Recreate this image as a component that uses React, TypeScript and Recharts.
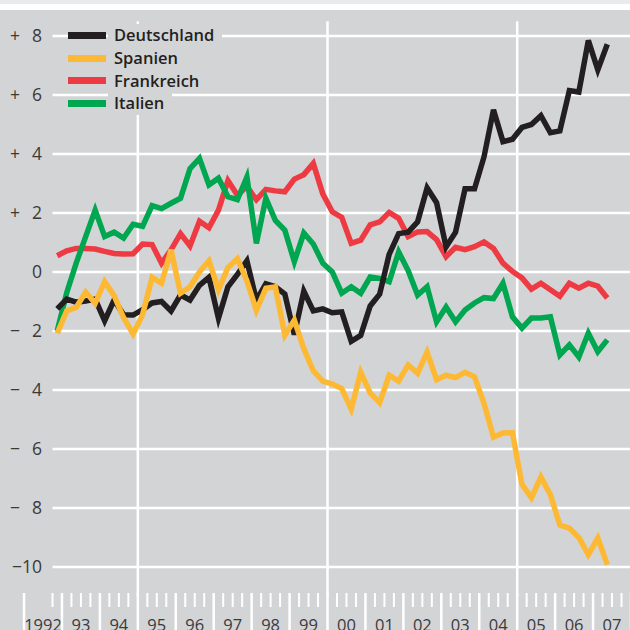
import React from 'react';
import { LineChart, Line, XAxis, YAxis, ReferenceLine, Legend } from 'recharts';

// quarterly values, 1992 Q4 .. 2007 Q2
const quarters = [
  '1992-4',
  '1993-1', '1993-2', '1993-3', '1993-4',
  '1994-1', '1994-2', '1994-3', '1994-4',
  '1995-1', '1995-2', '1995-3', '1995-4',
  '1996-1', '1996-2', '1996-3', '1996-4',
  '1997-1', '1997-2', '1997-3', '1997-4',
  '1998-1', '1998-2', '1998-3', '1998-4',
  '1999-1', '1999-2', '1999-3', '1999-4',
  '2000-1', '2000-2', '2000-3', '2000-4',
  '2001-1', '2001-2', '2001-3', '2001-4',
  '2002-1', '2002-2', '2002-3', '2002-4',
  '2003-1', '2003-2', '2003-3', '2003-4',
  '2004-1', '2004-2', '2004-3', '2004-4',
  '2005-1', '2005-2', '2005-3', '2005-4',
  '2006-1', '2006-2', '2006-3', '2006-4',
  '2007-1', '2007-2',
];

const deutschland = [
  -1.25,
  -0.92, -1.02, -0.98, -0.92,
  -1.65, -0.95, -1.45, -1.46,
  -1.28, -1.05, -1.0, -1.32,
  -0.78, -0.95, -0.45, -0.18,
  -1.57, -0.5, -0.08, 0.38,
  -0.95, -0.4, -0.5, -0.75,
  -2.12, -0.65, -1.32, -1.25,
  -1.38, -1.35, -2.35, -2.15,
  -1.15, -0.75, 0.6, 1.3,
  1.35, 1.7, 2.85, 2.35,
  0.85, 1.35, 2.82, 2.82,
  3.9, 5.5, 4.42, 4.5,
  4.9, 5.0, 5.3, 4.72,
  4.78, 6.15, 6.1, 7.85,
  6.85, 7.72,
];

const spanien = [
  -2.08,
  -1.32, -1.2, -0.68, -1.06,
  -0.33, -0.8, -1.55, -2.1,
  -1.45, -0.18, -0.38, 0.75,
  -0.72, -0.5, 0.0, 0.38,
  -0.6, 0.15, 0.45, -0.3,
  -1.3, -0.55, -0.5, -2.14,
  -1.63, -2.6, -3.35, -3.7,
  -3.8, -3.95, -4.65, -3.4,
  -4.1, -4.43, -3.5, -3.7,
  -3.15, -3.43, -2.72, -3.65,
  -3.5, -3.58, -3.4, -3.55,
  -4.45, -5.6, -5.46, -5.45,
  -7.2, -7.65, -6.95, -7.55,
  -8.58, -8.68, -9.0, -9.58,
  -9.02, -9.92,
];

const frankreich = [
  0.55,
  0.72, 0.8, 0.8, 0.78,
  0.7, 0.63, 0.61, 0.62,
  0.95, 0.93, 0.3, 0.75,
  1.3, 0.88, 1.72, 1.5,
  2.1, 3.1, 2.6, 2.9,
  2.45, 2.8, 2.75, 2.72,
  3.15, 3.3, 3.68, 2.65,
  2.04, 1.85, 0.97, 1.08,
  1.6, 1.7, 2.02, 1.82,
  1.2, 1.36, 1.37, 1.1,
  0.52, 0.84, 0.76, 0.86,
  1.02, 0.8, 0.3, 0.02,
  -0.2, -0.58, -0.38, -0.6,
  -0.82, -0.38, -0.55, -0.38,
  -0.48, -0.88,
];

const italien = [
  -2.0,
  -0.7, 0.3, 1.2, 2.1,
  1.2, 1.35, 1.15, 1.62,
  1.55, 2.25, 2.15, 2.33,
  2.5, 3.5, 3.85, 2.95,
  3.18, 2.55, 2.45, 3.22,
  0.97, 2.5, 1.75, 1.42,
  0.35, 1.32, 0.95, 0.3,
  0.0, -0.72, -0.5, -0.72,
  -0.17, -0.22, -0.33, 0.68,
  0.05, -0.78, -0.5, -1.69,
  -1.19, -1.69, -1.29, -1.05,
  -0.87, -0.9, -0.38, -1.52,
  -1.9, -1.56, -1.56, -1.52,
  -2.81, -2.47, -2.88, -2.07,
  -2.7, -2.3,
];

const yearLabels = ['1992', '93', '94', '95', '96', '97', '98', '99', '00', '01', '02', '03', '04', '05', '06', '07'];
const yTicks = [8, 6, 4, 2, 0, -2, -4, -6, -8, -10];
const markedYears = [1995, 2000, 2005];

const series = [
  { key: 'deutschland', name: 'Deutschland', color: '#231f20' },
  { key: 'spanien', name: 'Spanien', color: '#fdb933' },
  { key: 'frankreich', name: 'Frankreich', color: '#ee3b43' },
  { key: 'italien', name: 'Italien', color: '#00a650' },
];
// drawing order (bottom to top)
const drawOrder = ['frankreich', 'italien', 'deutschland', 'spanien'];

const BG = '#d3d4d6';
const FONT = '"Open Sans", "Noto Sans", sans-serif';
const firstYear = 1992;

const data = quarters.map((q, i) => {
  const [y, n] = q.split('-').map(Number);
  return {
    t: y + (n - 0.5) / 4,
    deutschland: deutschland[i],
    spanien: spanien[i],
    frankreich: frankreich[i],
    italien: italien[i],
  };
});

const xTicks: number[] = [];
yearLabels.forEach((_, k) => {
  const y = firstYear + k;
  [0, 0.25, 0.5, 0.75].forEach((f) => xTicks.push(y + f));
});
xTicks.push(firstYear + yearLabels.length);

const YTick = (props: any) => {
  const { y, payload } = props;
  const v = payload.value as number;
  const abs = Math.abs(v);
  const sign = v > 0 ? '+' : v < 0 ? '\u2212' : '';
  const style = { fontFamily: FONT, fontSize: 17.5, fill: '#3a3a3a' };
  return (
    <g>
      {sign && abs < 10 && (
        <text x={10} y={y} dy={6.2} textAnchor="start" style={style}>{sign}</text>
      )}
      <text x={42} y={y} dy={6.2} textAnchor="end" style={style}>
        {abs >= 10 ? `${sign}${abs}` : abs}
      </text>
    </g>
  );
};

const XTick = (props: any) => {
  const { x, payload } = props;
  const v = payload.value as number;
  const frac = v - Math.floor(v);
  const idx = Math.floor(v) - firstYear;
  return (
    <g>
      {frac === 0 && <line x1={x} x2={x} y1={593} y2={630} stroke="#fff" strokeWidth={2.5} />}
      {frac !== 0 && v > firstYear + 0.6 && (
        <line x1={x} x2={x} y1={593} y2={607} stroke="#fff" strokeWidth={2} />
      )}
      {frac === 0.5 && yearLabels[idx] && (
        <text x={x} y={631} textAnchor="middle" style={{ fontFamily: FONT, fontSize: 16.5, fill: '#3a3a3a' }}>
          {yearLabels[idx]}
        </text>
      )}
    </g>
  );
};

const renderLegend = () => (
  <div style={{ display: 'flex', flexDirection: 'column' }}>
    {series.map((s) => (
      <div key={s.key} style={{ display: 'flex', alignItems: 'center', height: 22.8 }}>
        <span style={{ display: 'inline-block', width: 38, height: 7, background: s.color, marginLeft: 6, marginRight: 2 }} />
        <span
          style={{
            background: BG,
            padding: '0 8px 0 6px',
            lineHeight: '22.8px',
            fontFamily: FONT,
            fontSize: 16.5,
            fontWeight: 600,
            color: '#231f20',
            whiteSpace: 'nowrap',
          }}
        >
          {s.name}
        </span>
      </div>
    ))}
  </div>
);

export default function App() {
  return (
    <div style={{ position: 'absolute', left: 0, top: 0, width: 630, height: 630, overflow: 'hidden', background: BG }}>
      <div style={{ position: 'absolute', left: 0, top: 0, width: 630, height: 4, background: '#e9eaec' }} />
      <div style={{ position: 'absolute', left: 0, top: 4, width: 630, height: 6, background: '#fff' }} />
      <div style={{ position: 'absolute', left: 0, top: 0 }}>
        <LineChart width={631} height={630} data={data} margin={{ top: 21.25, right: 0, bottom: 0, left: 0 }}>
          <XAxis
            dataKey="t"
            type="number"
            domain={[1992.5, 2008]}
            ticks={xTicks}
            interval={0}
            allowDataOverflow
            axisLine={false}
            tickLine={false}
            height={33.5}
            tick={<XTick />}
          />
          <YAxis
            type="number"
            domain={[-11, 8.5]}
            ticks={yTicks}
            interval={0}
            allowDataOverflow
            axisLine={false}
            tickLine={false}
            width={43}
            tick={<YTick />}
          />
          {yTicks.map((v) => (
            <ReferenceLine
              key={`h${v}`}
              segment={[{ x: 1992.75, y: v }, { x: 2008, y: v }]}
              stroke="#fff"
              strokeWidth={2.5}
            />
          ))}
          {markedYears.map((yr) => (
            <ReferenceLine key={`v${yr}`} x={yr} stroke="#fff" strokeWidth={2.5} />
          ))}
          {drawOrder.map((k) => {
            const s = series.find((d) => d.key === k)!;
            return (
              <Line
                key={k}
                type="linear"
                dataKey={k}
                name={s.name}
                stroke={s.color}
                strokeWidth={5.5}
                dot={false}
                activeDot={false}
                isAnimationActive={false}
              />
            );
          })}
          <Legend
            layout="horizontal"
            verticalAlign="middle"
            align="center"
            content={renderLegend}
            wrapperStyle={{ left: 62, top: 24, width: 'auto' }}
          />
        </LineChart>
      </div>
    </div>
  );
}
